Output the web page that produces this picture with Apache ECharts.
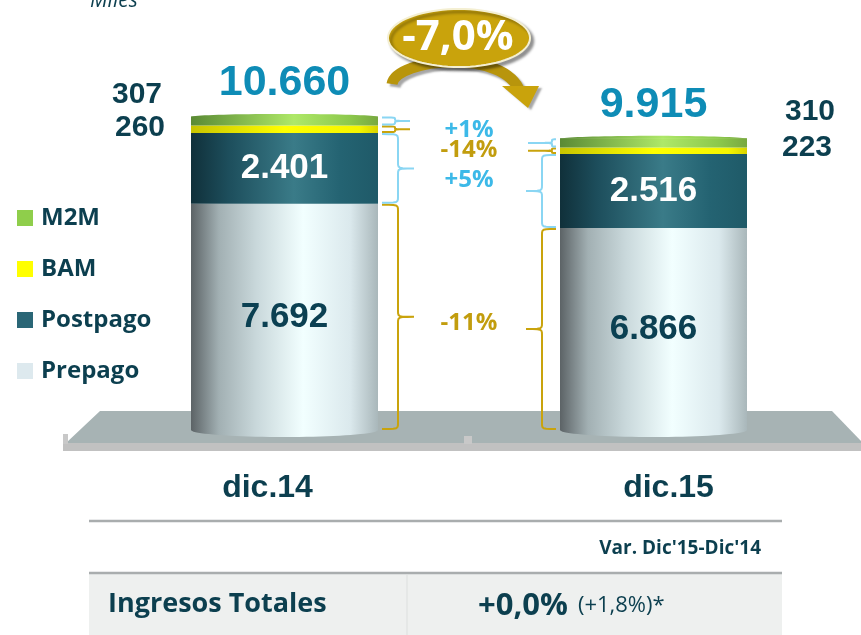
<!DOCTYPE html>
<html>
<head>
<meta charset="utf-8">
<script src="https://cdn.jsdelivr.net/npm/echarts@6/dist/echarts.min.js"></script>
<style>
  html, body { margin: 0; padding: 0; background: #fff; }
  #chart { width: 861px; height: 635px; }
</style>
</head>
<body>
<div id="chart"></div>
<script>
// datos (miles de líneas)
const categories = ['dic.14', 'dic.15'];
const prepago = [7692, 6866];
const postpago = [2401, 2516];
const bam = [260, 223];
const m2m = [307, 310];
// variación por segmento: Prepago, Postpago, BAM, M2M
const variaciones = ['-11%', '+5%', '-14%', '+1%'];
const variacionTotal = '-7,0%';
const ingresosVar = '+0,0%';
const ingresosVarAjust = '(+1,8%)*';

const totales = categories.map((c, i) => prepago[i] + postpago[i] + bam[i] + m2m[i]);

const DARK = '#0c3f4f';
const GOLD = '#c9a30c';
const BLUE = '#8ad6f3';
const BAR_W = 187;

const fmt = v => String(v).replace(/\B(?=(\d{3})+(?!\d))/g, '.');
const grad = stops => new echarts.graphic.LinearGradient(0, 0, 1, 0,
  stops.map(s => ({ offset: s[0], color: s[1] })));

const gPrepago = grad([[0, '#5c6366'], [0.15, '#a2b0b3'], [0.35, '#c9d8db'], [0.6, '#f2ffff'], [0.85, '#dbe9ed'], [1, '#a9b7ba']]);
const gPostpago = grad([[0, '#10303a'], [0.2, '#1d4e5c'], [0.55, '#3a7b88'], [0.8, '#246372'], [1, '#1f5a68']]);
const gBam = grad([[0, '#c8c400'], [0.5, '#ffff00'], [0.9, '#f5f500'], [1, '#d8d400']]);
const gM2m = grad([[0, '#5a8a34'], [0.55, '#aee868'], [0.85, '#8cc84c'], [1, '#78a840']]);

const chart = echarts.init(document.getElementById('chart'));

const sideLabel = (i, d1, d2, off1, off2) => i === 0
  ? { show: true, position: 'left', distance: d1, offset: [0, off1] }
  : { show: true, position: 'right', distance: d2, offset: [0, off2] };

const numFont = { fontFamily: 'Liberation Sans', fontWeight: 'bold' };

const option = {
  animation: false,
  grid: { left: 100, width: 738, top: 77, height: 353 },
  legend: {
    orient: 'vertical',
    left: 12,
    top: 201,
    itemWidth: 16,
    itemHeight: 16,
    itemGap: 27,
    icon: 'rect',
    selectedMode: false,
    textStyle: { fontFamily: 'Open Sans', fontWeight: 'bold', fontSize: 24, color: DARK, padding: [0, 0, 0, 3] },
    data: [
      { name: 'M2M', itemStyle: { color: '#8fce4b' } },
      { name: 'BAM', itemStyle: { color: '#ffff00' } },
      { name: 'Postpago', itemStyle: { color: '#2a6676' } },
      { name: 'Prepago', itemStyle: { color: '#dde9ee' } }
    ]
  },
  xAxis: {
    type: 'category',
    data: [
      { value: categories[0], textStyle: { padding: [0, 34, 0, 0] } },
      { value: categories[1], textStyle: { padding: [0, 0, 0, 30] } }
    ],
    axisLine: { show: false },
    axisTick: { show: false },
    axisLabel: { margin: 42, fontSize: 32, color: DARK, ...numFont }
  },
  yAxis: { type: 'value', min: 0, max: 12000, show: false },
  series: [
    {
      name: 'Prepago', type: 'bar', stack: 'lineas', barWidth: BAR_W, z: 2,
      itemStyle: { color: gPrepago },
      label: { show: true, position: 'inside', fontSize: 35, color: '#0b4052', ...numFont, formatter: p => fmt(p.value) },
      emphasis: { disabled: true },
      data: prepago
    },
    {
      name: 'Postpago', type: 'bar', stack: 'lineas', barWidth: BAR_W, z: 2,
      itemStyle: { color: gPostpago },
      label: { show: true, position: 'inside', fontSize: 35, color: '#ffffff', ...numFont, formatter: p => fmt(p.value) },
      emphasis: { disabled: true },
      data: postpago
    },
    {
      name: 'BAM', type: 'bar', stack: 'lineas', barWidth: BAR_W, z: 2,
      itemStyle: { color: gBam },
      label: { fontSize: 30, color: DARK, ...numFont, formatter: p => fmt(p.value) },
      emphasis: { disabled: true },
      data: bam.map((v, i) => ({ value: v, label: sideLabel(i, 26, 35, -2, -3) }))
    },
    {
      name: 'M2M', type: 'bar', stack: 'lineas', barWidth: BAR_W, z: 2,
      itemStyle: { color: gM2m },
      label: { fontSize: 30, color: DARK, ...numFont, formatter: p => fmt(p.value) },
      emphasis: { disabled: true },
      data: m2m.map((v, i) => ({ value: v, label: sideLabel(i, 29, 38, -26, -31) }))
    },
    {
      // tapas del cilindro y total
      type: 'custom',
      z: 3,
      silent: true,
      data: totales.map((t, i) => [i, t]),
      renderItem: (params, api) => {
        const base = api.coord([api.value(0), 0]);
        const top = api.coord([api.value(0), api.value(1)]);
        const rx = BAR_W / 2;
        const bottomPts = [], topPts = [];
        for (let k = 0; k <= 40; k++) {
          const t = Math.PI * k / 40;
          bottomPts.push([base[0] + rx * Math.cos(t), base[1] + 7 * Math.sin(t)]);
          topPts.push([top[0] + rx * Math.cos(t), top[1] + 0.5 - 3 * Math.sin(t)]);
        }
        return {
          type: 'group',
          children: [
            { type: 'polygon', shape: { points: bottomPts }, style: { fill: gPrepago } },
            { type: 'polygon', shape: { points: topPts }, style: { fill: gM2m } },
            {
              type: 'text',
              style: {
                x: top[0], y: top[1] - 12, text: fmt(api.value(1)),
                align: 'center', verticalAlign: 'bottom',
                fill: '#0e8cb6', font: 'bold 43px "Liberation Sans"'
              }
            }
          ]
        };
      }
    }
  ]
};

chart.setOption(option);

// ---- anotaciones: llaves, variaciones, piso, flecha y tabla ----
function cubic(p0, p1, p2, p3, n) {
  const pts = [];
  for (let i = 1; i <= n; i++) {
    const t = i / n, u = 1 - t;
    pts.push([
      u * u * u * p0[0] + 3 * u * u * t * p1[0] + 3 * u * t * t * p2[0] + t * t * t * p3[0],
      u * u * u * p0[1] + 3 * u * u * t * p1[1] + 3 * u * t * t * p2[1] + t * t * t * p3[1]
    ]);
  }
  return pts;
}

function brace(x0, xv, xt, y1, y2, color) {
  const ym = (y1 + y2) / 2;
  const r = Math.min(6, (y2 - y1) / 4);
  let pts = [[x0, y1]];
  pts = pts.concat(cubic([x0, y1], [xv, y1], [xv, y1], [xv, y1 + r], 6));
  pts.push([xv, ym - r]);
  pts = pts.concat(cubic([xv, ym - r], [xv, ym], [xv, ym], [xt, ym], 6));
  pts = pts.concat(cubic([xt, ym], [xv, ym], [xv, ym], [xv, ym + r], 6));
  pts.push([xv, y2 - r]);
  pts = pts.concat(cubic([xv, y2 - r], [xv, y2], [xv, y2], [x0, y2], 6));
  return {
    type: 'polyline', z: 10, shape: { points: pts },
    style: { stroke: color, lineWidth: 2, fill: null }
  };
}

const px = (i, v) => chart.convertToPixel({ seriesIndex: 0 }, [i, v]);
const segColors = [GOLD, BLUE, GOLD, BLUE];
const txtColors = ['#c29d0e', '#3cb9e8', '#c29d0e', '#3cb9e8'];
const graphics = [];

const bounds = categories.map((c, i) => [0, prepago[i], prepago[i] + postpago[i],
  prepago[i] + postpago[i] + bam[i], totales[i]]);
const cx0 = px(0, 0)[0], cx1 = px(1, 0)[0];
const right0 = cx0 + BAR_W / 2, left1 = cx1 - BAR_W / 2;
const midX = (right0 + left1) / 2;

const labelY = [];
for (let k = 0; k < 4; k++) {
  const small = k >= 2;
  const a1 = px(0, bounds[0][k + 1])[1] + 1, a2 = px(0, bounds[0][k])[1] - 1;
  const b1 = px(1, bounds[1][k + 1])[1] + 1, b2 = px(1, bounds[1][k])[1] - 1;
  graphics.push(brace(right0 + 4, right0 + (small ? 17 : 20), right0 + (small ? 32 : 36), a1, a2, segColors[k]));
  graphics.push(brace(left1 - 4, left1 - (small ? 8 : 18), left1 - (small ? 32 : 34), b1, b2, segColors[k]));
  labelY.push(((a1 + a2) / 2 + (b1 + b2) / 2) / 2);
}
// separar las etiquetas pequeñas (BAM / M2M)
const midSmall = (labelY[2] + labelY[3]) / 2 + 4;
labelY[3] = Math.min(labelY[3], midSmall - 10);
labelY[2] = Math.max(labelY[2], midSmall + 10);
for (let k = 0; k < 4; k++) {
  graphics.push({
    type: 'text', z: 10,
    style: {
      x: midX, y: labelY[k], text: variaciones[k], align: 'center', verticalAlign: 'middle',
      fill: txtColors[k], font: 'bold 24px "Open Sans"'
    }
  });
}

// piso
graphics.push({
  type: 'polygon', z: 0,
  shape: { points: [[100, 411], [832, 411], [861, 441], [861, 443], [66, 443]] },
  style: { fill: '#a7b3b4' }
});
graphics.push({ type: 'rect', z: 0, shape: { x: 63, y: 443, width: 798, height: 8 }, style: { fill: '#c1c1c1' } });
graphics.push({ type: 'rect', z: 0, shape: { x: 63, y: 434, width: 5, height: 10 }, style: { fill: '#c8c8c8' } });
graphics.push({ type: 'rect', z: 0, shape: { x: 464, y: 436, width: 8, height: 8 }, style: { fill: '#c8c8c8' } });

// flecha de variación total
graphics.push({
  type: 'bezierCurve', z: 8,
  shape: { x1: 392, y1: 84, cpx1: 396, cpy1: 58, cpx2: 505, cpy2: 48, x2: 520, y2: 92 },
  style: { stroke: '#b8950c', lineWidth: 11, fill: null, shadowColor: 'rgba(0,0,0,0.35)', shadowOffsetX: 3, shadowOffsetY: 3, shadowBlur: 2 }
});
graphics.push({
  type: 'polygon', z: 8,
  shape: { points: [[502, 86], [539, 86], [528, 108]] },
  style: { fill: GOLD, shadowColor: 'rgba(0,0,0,0.35)', shadowOffsetX: 3, shadowOffsetY: 2, shadowBlur: 2 }
});
const ell = [];
for (let k = 0; k < 80; k++) {
  const t = 2 * Math.PI * k / 80;
  ell.push([459 + 71 * Math.cos(t), 38 + 29 * Math.sin(t)]);
}
graphics.push({
  type: 'polygon', z: 9, shape: { points: ell },
  style: { fill: GOLD, stroke: '#f4efd2', lineWidth: 2, shadowColor: 'rgba(0,0,0,0.4)', shadowOffsetX: 3, shadowOffsetY: 3, shadowBlur: 3 }
});
graphics.push({
  type: 'text', z: 10,
  style: { x: 458, y: 38, text: variacionTotal, align: 'center', verticalAlign: 'middle', fill: '#ffffff', font: 'bold 42px "Open Sans"' }
});

// unidad
graphics.push({
  type: 'text', z: 10,
  style: { x: 90, y: 12, text: 'Miles', align: 'left', verticalAlign: 'bottom', fill: DARK, font: 'italic 21px "Open Sans"' }
});

// tabla inferior
graphics.push({ type: 'line', z: 1, shape: { x1: 89, y1: 521, x2: 782, y2: 521 }, style: { stroke: '#a9adae', lineWidth: 2.5 } });
graphics.push({
  type: 'text', z: 10,
  style: { x: 761, y: 549, text: "Var. Dic'15-Dic'14", align: 'right', verticalAlign: 'middle', fill: DARK, font: 'bold 19px "Open Sans"' }
});
graphics.push({ type: 'rect', z: 0, shape: { x: 89, y: 574, width: 693, height: 61 }, style: { fill: '#eef0ef' } });
graphics.push({ type: 'line', z: 1, shape: { x1: 89, y1: 573, x2: 782, y2: 573 }, style: { stroke: '#a9adae', lineWidth: 2.5 } });
graphics.push({ type: 'line', z: 1, shape: { x1: 407, y1: 575, x2: 407, y2: 635 }, style: { stroke: '#dcdfde', lineWidth: 1 } });
graphics.push({
  type: 'text', z: 10,
  style: { x: 108, y: 604, text: 'Ingresos Totales', align: 'left', verticalAlign: 'middle', fill: DARK, font: 'bold 27px "Open Sans"' }
});
graphics.push({
  type: 'text', z: 10,
  style: {
    x: 478, y: 606, text: '{a|' + ingresosVar + '}{b|' + ingresosVarAjust + '}',
    align: 'left', verticalAlign: 'middle',
    rich: {
      a: { fontFamily: 'Open Sans', fontWeight: 'bold', fontSize: 31, fill: DARK, color: DARK },
      b: { fontFamily: 'Open Sans', fontSize: 22, fill: DARK, color: DARK, padding: [0, 0, 0, 10] }
    }
  }
});

chart.setOption({ graphic: { elements: graphics } });
</script>
</body>
</html>
